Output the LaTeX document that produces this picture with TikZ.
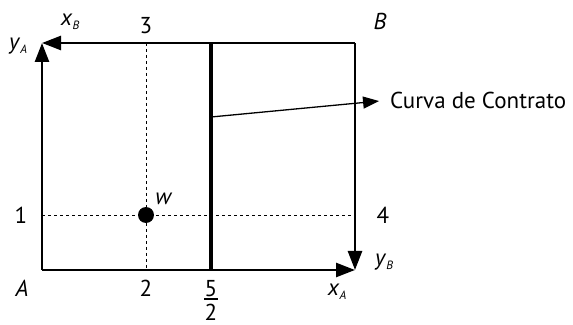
\documentclass[tikz,border=0pt]{standalone}
\usepackage{fontspec}
\setmainfont{PT Sans}
\usetikzlibrary{arrows.meta}
\tikzset{
    axis/.style={line width=2.6pt, -{Triangle[length=19pt,width=14pt]}},
    guide/.style={line width=0.9pt, dash pattern=on 3pt off 3pt},
    lbl/.style={font=\fontsize{23}{27}\selectfont, inner sep=0pt}
}
\newcommand{\var}[2]{\textit{#1}\raisebox{-4pt}{\fontsize{12}{14}\selectfont\textit{#2}}}
\begin{document}
\begin{tikzpicture}[x=1pt,y=1pt]
    \useasboundingbox (0,0) rectangle (573,324);
    % corners of the box
    \coordinate (oA) at (42,54);
    \coordinate (oB) at (355,281);
    \coordinate (tl) at (42,281);
    \coordinate (br) at (355,54);
    % dotted guides through w
    \coordinate (g1) at (146,281);
    \coordinate (g2) at (146,54);
    \coordinate (g3) at (42,109);
    \coordinate (g4) at (355,109);
    \draw[guide] (g1) -- (g2);
    \draw[guide] (g3) -- (g4);
    % contract curve
    \coordinate (c1) at (211,281);
    \coordinate (c2) at (211,54);
    \draw[line width=4.8pt] (c1) -- (c2);
    % axes
    \draw[axis] (oA) -- (br);
    \draw[axis] (oA) -- (tl);
    \draw[axis] (oB) -- (tl);
    \draw[axis] (oB) -- (br);
    \node[circle, fill, inner sep=0pt, minimum size=16pt] (w) at (146,109) {};
    % labels
    \node[lbl] (lA) at (22,36) {\textit{A}};
    \node[lbl] (lB) at (380,303) {\textit{B}};
    \node[lbl] (yA) at (18,278) {\var{y}{A}};
    \node[lbl] (xB) at (70,302) {\var{x}{B}};
    \node[lbl] (xA) at (337,32) {\var{x}{A}};
    \node[lbl] (yB) at (384,62) {\var{y}{B}};
    \node[lbl] (n3) at (146,298) {3};
    \node[lbl] (n1) at (21,109) {1};
    \node[lbl] (n4) at (383,109) {4};
    \node[lbl] (n2) at (146,36) {2};
    \node[lbl, align=center] (n52) at (211,24) {5\\[-23pt]\rule{14pt}{1.6pt}\\[-7pt]2};
    \node[lbl] (lw) at (164,125) {\textit{w}};
    \node[lbl, anchor=west] (cc) at (390,224) {Curva de Contrato};
    \coordinate (cs) at (211,207);
    \draw[line width=1.3pt, shorten >=11pt, -{Triangle[length=16pt,width=12pt]}] (cs) -- (cc.west);
\end{tikzpicture}
\end{document}
